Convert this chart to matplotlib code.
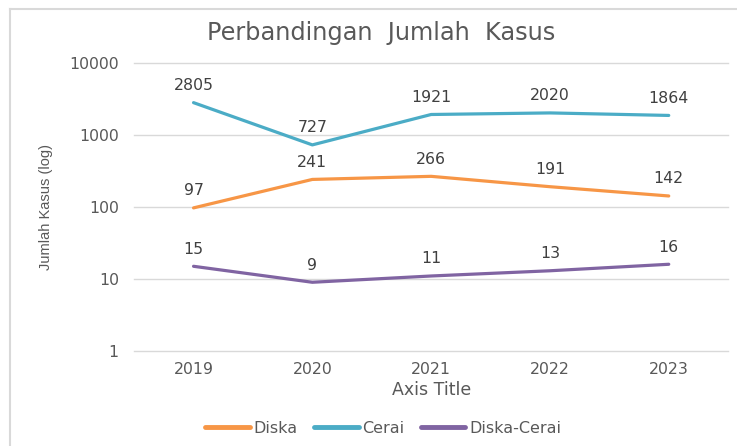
import numpy as np
import matplotlib
matplotlib.use("Agg")
import matplotlib.pyplot as plt
from matplotlib.lines import Line2D

# datos del grafico
years = ["2019", "2020", "2021", "2022", "2023"]
diska = [97, 241, 266, 191, 142]
cerai = [2805, 727, 1921, 2020, 1864]
diska_cerai = [15, 9, 11, 13, 16]

plt.rcParams['font.family'] = ['DejaVu Sans']
txt = '#595959'

fig = plt.figure(figsize=(7.37, 4.46), dpi=100)
ax = fig.add_axes([0.182, 0.213, 0.806, 0.646])

x = np.arange(len(years))
series = [(diska, 'Diska', '#F79646'),
          (cerai, 'Cerai', '#4BACC6'),
          (diska_cerai, 'Diska-Cerai', '#8064A2')]
for vals, name, col in series:
    ax.plot(x, vals, color=col, lw=2.3, label=name, solid_capstyle='round')
    # etiquetas de datos
    for xi, v in zip(x, vals):
        ax.annotate(str(v), (xi, v), xytext=(0, 7), textcoords='offset points',
                    ha='center', va='bottom', fontsize=11.3, color='#404040')

ax.set_yscale('log')
ax.set_ylim(1, 10000)
ax.set_xlim(-0.5, len(years) - 0.5)
ax.set_yticks([1, 10, 100, 1000, 10000])
ax.set_yticklabels(['1', '10', '100', '1000', '10000'])
ax.minorticks_off()
ax.set_xticks(x)
ax.set_xticklabels(years)
ax.tick_params(length=0, labelsize=11.3, labelcolor=txt)
ax.tick_params(axis='y', pad=11)
ax.tick_params(axis='x', pad=8)
ax.grid(True, axis='y', color='#D9D9D9', lw=1)
for gl in ax.get_ygridlines():
    gl.set_clip_on(False)
ax.set_axisbelow(True)
for s in ax.spines.values():
    s.set_visible(False)

ax.set_xlabel('Axis Title', fontsize=12.5, color=txt, labelpad=3)
ax.set_ylabel('Jumlah Kasus (log)', fontsize=10.5, color=txt, labelpad=12,
              family='Liberation Sans')
fig.text(0.517, 0.925, 'Perbandingan  Jumlah  Kasus', ha='center', va='center',
         fontsize=17.3, color=txt)

fig.legend(loc='center', bbox_to_anchor=(0.52, 0.04), ncol=3, frameon=False,
           fontsize=11.5, handlelength=2.8, handletextpad=0.25, columnspacing=1.0,
           labelcolor=txt)
for h in fig.legends[0].get_lines():
    h.set_linewidth(3.5)

# borde del area del grafico (solo izquierda y arriba visibles)
x0, y0 = 10 / 737, 1 - 9 / 446
fig.add_artist(Line2D([x0, x0], [0, y0], transform=fig.transFigure,
                      color='#D9D9D9', lw=1.5))
fig.add_artist(Line2D([x0, 1], [y0, y0], transform=fig.transFigure,
                      color='#D9D9D9', lw=1.5))

fig.savefig('out.png', dpi=100)
